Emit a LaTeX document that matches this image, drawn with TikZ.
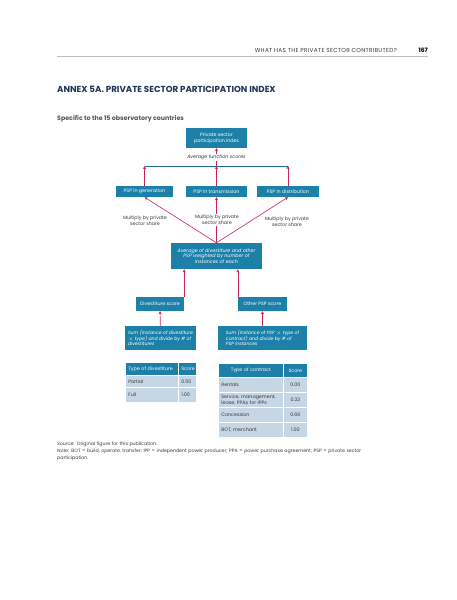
\documentclass[tikz,border=0pt]{standalone}
\usepackage{fontspec}
\setmainfont{Poppins}
\usetikzlibrary{positioning,arrows.meta,calc}
\definecolor{boxblue}{HTML}{1C80A9}
\definecolor{barteal}{HTML}{1B6C8C}
\definecolor{arrred}{HTML}{C7245A}
\definecolor{cellgray}{HTML}{C6D6E4}
\definecolor{titlenavy}{HTML}{1E3656}
\definecolor{subgray}{HTML}{555555}
\definecolor{txtgray}{HTML}{3A3A3A}
\newcommand{\boxfont}{\fontsize{4.8}{5.8}\selectfont}

\begin{document}
\begin{tikzpicture}[x=1pt, y=-1pt,
  box/.style={fill=boxblue, text=white, inner sep=1pt, align=center, font=\boxfont},
  sumbox/.style={box, align=left, font=\fontsize{4.6}{5.8}\selectfont\itshape},
  arr/.style={-{Stealth[length=3.2pt,width=3.2pt]}, arrred, line width=0.6pt},
  lbl/.style={font=\boxfont, text=txtgray, align=center, inner sep=1pt},
  hcell/.style={fill=boxblue, text=white, draw=white, line width=0.7pt, anchor=north west,
                inner xsep=3pt, inner ysep=0pt, font=\boxfont},
  bcell/.style={fill=cellgray, text=txtgray, draw=white, line width=0.7pt, anchor=north west,
                inner xsep=3pt, inner ysep=0pt, font=\boxfont}
]
  \useasboundingbox (0,0) rectangle (457,600);

  % running head
  \draw[gray!50, line width=0.4pt] (57,56) -- (428,56);
  \node[anchor=east, inner sep=0, text=txtgray, font=\fontsize{5.8}{6.5}\selectfont\addfontfeature{LetterSpace=5}] (head) at (397,50)
    {WHAT HAS THE PRIVATE SECTOR CONTRIBUTED?};
  \node[anchor=east, inner sep=0, text=black, font=\fontsize{6}{7}\selectfont\bfseries] (page) at (428,50) {167};

  % titles
  \node[anchor=west, inner sep=0, text=titlenavy, font=\fontsize{8.7}{10}\selectfont\bfseries] (title) at (57,89)
    {ANNEX 5A. PRIVATE SECTOR PARTICIPATION INDEX};
  \node[anchor=west, inner sep=0, text=subgray, font=\fontsize{6.3}{7.5}\selectfont\bfseries] (subtitle) at (57,119)
    {Specific to the 15 observatory countries};

  % boxes
  \node[box, minimum width=61pt, minimum height=20pt] (psi) at (216.5,138) {Private sector\\participation index};
  \node[box, minimum width=57pt, minimum height=11pt] (gen) at (144.5,191.5) {PSP in generation};
  \node[box, minimum width=61pt, minimum height=11pt] (trans) at (216.5,191.5) {PSP in transmission};
  \node[box, minimum width=62pt, minimum height=11pt] (dist) at (288,191.5) {PSP in distribution};
  \node[box, font=\boxfont\itshape, minimum width=91pt, minimum height=26pt] (avg) at (216.5,256)
    {Average of divestiture and other\\PSP weighted by number of\\instances of each};
  \node[box, minimum width=48pt, minimum height=14pt] (div) at (160,304) {Divestiture score};
  \node[box, minimum width=49pt, minimum height=14pt] (oth) at (262.5,304) {Other PSP score};
  \node[sumbox, minimum width=71pt, minimum height=24pt] (sumd) at (160.5,338)
    {Sum (instance of divestiture\\$\times$ type) and divide by \# of\\divestitures};
  \node[sumbox, minimum width=89pt, minimum height=24pt] (sumo) at (262.5,338)
    {Sum (instance of PSP $\times$ type of\\contract) and divide by \# of\\PSP instances};

  % aggregation bar
  \coordinate (bar) at (216.5,166);
  \draw[barteal, line width=0.7pt] (gen |- bar) -- (dist |- bar);
  \draw[arr] (gen) -- (gen |- bar);
  \draw[arr] (trans) -- (bar);
  \draw[arr] (dist) -- (dist |- bar);
  \draw[arr] (bar) -- node[lbl, fill=white, font=\boxfont\itshape] (avgfn) {Average function scores} (psi);

  % private sector share
  \draw[arr] (avg.north) -- (gen.south);
  \draw[arr] (avg.north) -- (dist.south);
  \draw[arr] (avg.north) -- (trans.south);
  \node[lbl] (mulg) at (145,221) {Multiply by private\\sector share};
  \node[lbl, fill=white] (mult) at (217,220) {Multiply by private\\sector share};
  \node[lbl] (muld) at (287,221.5) {Multiply by private\\sector share};

  % scores
  \draw[arr] (div.north east) -- (div.north east |- avg.south);
  \draw[arr] (oth.north west) -- (oth.north west |- avg.south);
  \draw[arr] (sumd) -- (div);
  \draw[arr] (sumo) -- (oth);

  % divestiture table
  \node[hcell, text width=47pt, minimum height=13pt] (dh1) at (125,362) {Type of divestiture};
  \node[hcell, text width=12pt, minimum height=13pt] (dh2) at (178,362) {Score};
  \node[bcell, text width=47pt, minimum height=12pt] (dr1) at (125,375) {Partial};
  \node[bcell, text width=12pt, minimum height=12pt] (ds1) at (178,375) {0.50};
  \node[bcell, text width=47pt, minimum height=15pt] (dr2) at (125,387) {Full};
  \node[bcell, text width=12pt, minimum height=15pt] (ds2) at (178,387) {1.00};

  % contract table
  \node[hcell, text width=59pt, minimum height=14pt, align=center] (ch1) at (218,363) {Type of contract};
  \node[hcell, text width=18pt, minimum height=14pt, align=center] (ch2) at (283,363) {Score};
  \node[bcell, text width=59pt, minimum height=15pt] (cr1) at (218,377) {Rentals};
  \node[bcell, text width=18pt, minimum height=15pt, align=center] (cs1) at (283,377) {0.00};
  \node[bcell, text width=59pt, minimum height=15pt] (cr2) at (218,392) {Service, management,\\lease, PPAs for IPPs};
  \node[bcell, text width=18pt, minimum height=15pt, align=center] (cs2) at (283,392) {0.33};
  \node[bcell, text width=59pt, minimum height=15pt] (cr3) at (218,407) {Concession};
  \node[bcell, text width=18pt, minimum height=15pt, align=center] (cs3) at (283,407) {0.66};
  \node[bcell, text width=59pt, minimum height=15pt] (cr4) at (218,422) {BOT, merchant};
  \node[bcell, text width=18pt, minimum height=15pt, align=center] (cs4) at (283,422) {1.00};

  % source and note
  \node[anchor=north west, inner sep=0, text width=312pt, align=left, text=txtgray,
        font=\fontsize{4.7}{7}\selectfont] (note) at (57,442)
    {\textit{Source:} Original figure for this publication.\\
     \textit{Note:} BOT = build, operate, transfer; IPP = independent power producer; PPA = power purchase agreement; PSP = private sector participation.};
\end{tikzpicture}
\end{document}
